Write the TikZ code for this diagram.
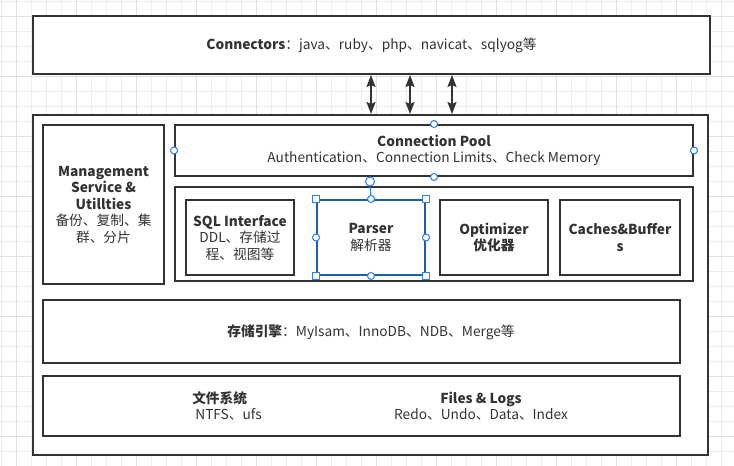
\documentclass[tikz,border=0pt]{standalone}
\usepackage{fontspec}
\setmainfont{Noto Sans CJK SC}
\usetikzlibrary{arrows.meta}
\def\px{0.02cm}
\definecolor{ink}{HTML}{333333}
\definecolor{handle}{HTML}{2F80ED}
\definecolor{selblue}{HTML}{1C5FA8}
\tikzset{
	box/.style={draw=ink, line width=1.1pt, fill=white, text=ink, align=center, inner sep=0pt},
	gridminor/.style={draw=black!7, line width=0.4pt},
	gridmajor/.style={draw=black!12, line width=0.4pt},
	link/.style={draw=ink, line width=1.1pt, {Stealth[length=2.4mm,width=1.8mm,inset=0.4mm]}-{Stealth[length=2.4mm,width=1.8mm,inset=0.4mm]}},
	dot/.style={circle, draw=handle, fill=white, line width=0.6pt, inner sep=0pt, minimum size=7*\px},
	knob/.style={rectangle, draw=handle, fill=white, line width=0.6pt, inner sep=0pt, minimum size=7*\px}
}
\begin{document}
\begin{tikzpicture}[x=0.02cm, y=-0.02cm, font=\fontsize{7.8}{9.4}\selectfont]
	\useasboundingbox (0,0) rectangle (734,466);
	
	% editor grid
	\foreach \gx in {1.7,16.7,...,734} \draw[gridminor] (\gx,0) -- (\gx,466);
	\foreach \gy in {1.7,16.7,...,466} \draw[gridminor] (0,\gy) -- (734,\gy);
	\foreach \gx in {16.7,76.7,...,734} \draw[gridmajor] (\gx,0) -- (\gx,466);
	\foreach \gy in {16.7,76.7,...,466} \draw[gridmajor] (0,\gy) -- (734,\gy);
	
	% clients
	\node[box, minimum width=677*\px, minimum height=58*\px] (conn) at (371.5,45)
		{\textbf{Connectors}：java、ruby、php、navicat、sqlyog等};
	
	% server
	\node[box, minimum width=675*\px, minimum height=340*\px] (server) at (370.5,285) {};
	
	\node[box, minimum width=121*\px, minimum height=159*\px] (mgmt) at (103.5,204.5)
		{\textbf{Management}\\\textbf{Service \&}\\\textbf{Utillties}\\备份、复制、集\\群、分片};
	
	\node[box, minimum width=518*\px, minimum height=51*\px] (pool) at (434,150.5)
		{\textbf{Connection Pool}\\Authentication、Connection Limits、Check Memory};
	
	\node[box, minimum width=518*\px, minimum height=94*\px] (core) at (434,234) {};
	
	\node[box, minimum width=108*\px, minimum height=75*\px] (sql) at (240,237.5)
		{\textbf{SQL Interface}\\DDL、存储过\\程、视图等};
	\node[box, draw=selblue, minimum width=108*\px, minimum height=75*\px] (parser) at (371,237.5)
		{\textbf{Parser}\\解析器};
	\node[box, minimum width=108*\px, minimum height=75*\px] (opt) at (494,237.5)
		{\textbf{Optimizer}\\\textbf{优化器}};
	\node[box, minimum width=120*\px, minimum height=75*\px] (cache) at (620,237.5)
		{\textbf{Caches\&Buffer}\\\textbf{s}};
	
	\node[box, minimum width=637*\px, minimum height=63*\px] (engine) at (361.5,331.5) {};
	\node[text=ink] (engine-txt) at (371,332) {\textbf{存储引擎}：MyIsam、InnoDB、NDB、Merge等};
	
	\node[box, minimum width=637*\px, minimum height=60*\px] (files) at (361.5,406) {};
	\node[text=ink, align=left] (fs-txt) at (227,406) {\textbf{文件系统}\\\ NTFS、ufs};
	\node[text=ink, align=center] (logs-txt) at (481,406) {\textbf{Files \& Logs}\\Redo、Undo、Data、Index};
	
	% client links
	\foreach \ax in {371,410,452}
		\draw[link] (\ax,0 |- conn.south) -- (\ax,0 |- server.north);
	
	% selection handles
	\node[dot] (h1) at (pool.north) {};
	\node[dot] (h2) at (pool.south) {};
	\node[dot] (h3) at (pool.west) {};
	\node[dot] (h4) at (pool.east) {};
	\node[dot, minimum size=9*\px] (hrot) at (370,181.5) {};
	\draw[handle, line width=0.6pt] (hrot) -- (parser.north);
	\foreach \a in {north,south,east,west} \node[dot] at (parser.\a) {};
	\foreach \a in {north west,north east,south west,south east} \node[knob] at (parser.\a) {};
\end{tikzpicture}
\end{document}
